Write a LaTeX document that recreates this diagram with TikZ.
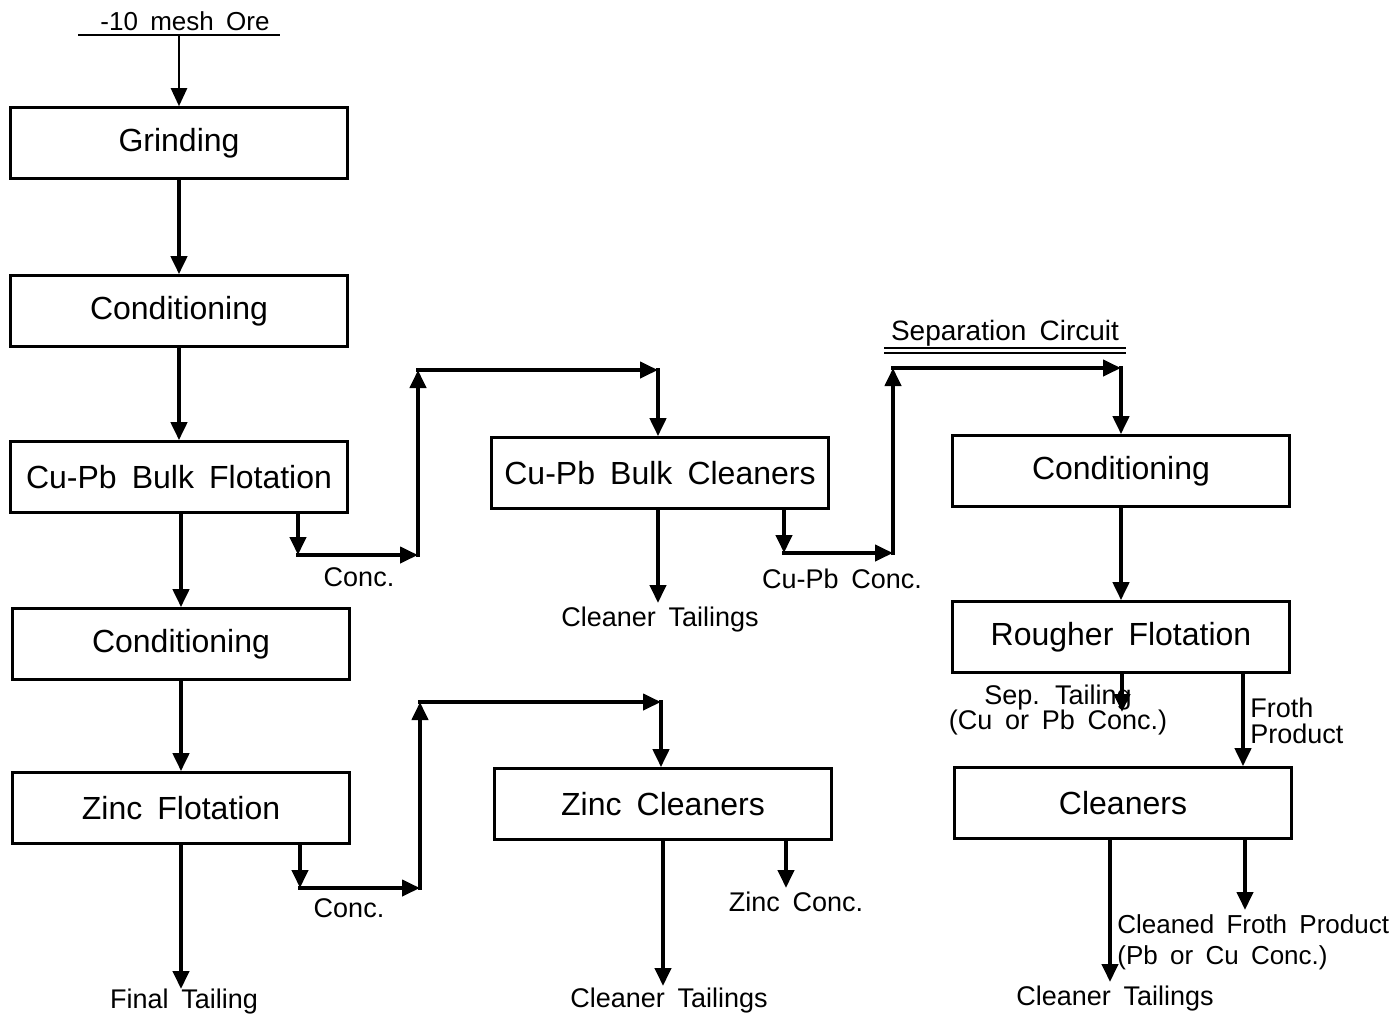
\documentclass[tikz,border=0pt]{standalone}
\usepackage{fontspec}
\setmainfont{Liberation Sans}[WordSpace=1.7]
\usetikzlibrary{arrows.meta,positioning}

\begin{document}
\begin{tikzpicture}[
    x=0.5pt, y=-0.5pt,
    unit/.style={rectangle, draw, line width=1.3pt, minimum width=168.5pt,
      minimum height=35.5pt, inner sep=0pt, font=\fontsize{16}{19}\selectfont},
    lbl/.style={inner sep=0pt, font=\fontsize{13.5}{13}\selectfont},
    flow/.style={-{Triangle[length=9pt,width=8pt]}, line width=2pt, line cap=rect},
    >=Stealth
  ]
  \useasboundingbox (0,0) rectangle (1394,1019);

  % main column
  \node[unit] (grind) at (179,143) {Grinding};
  \node[unit] (cond1) at (179,311) {Conditioning};
  \node[unit] (bulk)  at (179,477) {Cu-Pb Bulk Flotation};
  \node[unit] (cond2) at (181,644) {Conditioning};
  \node[unit] (zinc)  at (181,808) {Zinc Flotation};

  % cleaners
  \node[unit] (bulkcl) at (660,473) {Cu-Pb Bulk Cleaners};
  \node[unit] (zinccl) at (663,804) {Zinc Cleaners};

  % separation circuit
  \node[unit] (cond3) at (1121,471) {Conditioning};
  \node[unit] (rough) at (1121,637) {Rougher Flotation};
  \node[unit] (clean) at (1123,803) {Cleaners};

  % feed
  \node[lbl, font=\fontsize{13}{13}\selectfont] (ore) at (185,21) {-10 mesh Ore};
  \coordinate (orel) at (78,35);
  \coordinate (orer) at (280,35);
  \draw[line width=1pt] (orel) -- (orer);
  \draw[flow, line width=1.2pt] (grind.north |- orel) -- (grind);

  \draw[flow] (grind) -- (cond1);
  \draw[flow] (cond1) -- (bulk);
  \draw[flow] (bulk.south -| cond2) -- (cond2);
  \draw[flow] (cond2) -- (zinc);

  % Cu-Pb bulk concentrate
  \coordinate (a1) at (298,555);
  \coordinate (a2) at (418,555);
  \coordinate (a3) at (418,370);
  \coordinate (a4) at (658,370);
  \draw[flow] (bulk.south -| a1) -- (a1);
  \draw[flow] (a1) -- (a2);
  \draw[flow] (a2) -- (a3);
  \draw[flow] (a3) -- (a4);
  \draw[flow] (a4) -- (bulkcl.north -| a4);
  \node[lbl] (bconc) at (359,577) {Conc.};

  \node[lbl] (bctail) at (660,620) {Cleaner Tailings};
  \draw[flow] (bulkcl.south -| a4) -- ([yshift=2pt]bctail.north -| a4);

  % Cu-Pb concentrate to separation
  \coordinate (b1) at (784,553);
  \coordinate (b2) at (893,553);
  \coordinate (b3) at (893,368);
  \coordinate (b4) at (1121,368);
  \draw[flow] (bulkcl.south -| b1) -- (b1);
  \draw[flow] (b1) -- (b2);
  \draw[flow] (b2) -- (b3);
  \draw[flow] (b3) -- (b4);
  \draw[flow] (b4) -- (cond3.north -| b4);
  \node[lbl] (cpconc) at (842,579) {Cu-Pb Conc.};

  \node[lbl, font=\fontsize{14}{14}\selectfont] (sep) at (1005,333) {Separation Circuit};
  \coordinate (s1) at (884,350);
  \coordinate (s2) at (1126,350);
  \draw[line width=1pt, double, double distance=1.5pt] (s1) -- (s2);

  \draw[flow] (cond3) -- (rough);

  % rougher products
  \coordinate (st) at (1122,712);
  \draw[flow] (rough.south -| st) -- (st);
  \node[lbl, align=center] (septail) at (1058,710) {Sep. Tailing\\(Cu or Pb Conc.)};
  \coordinate (fp) at (1243,700);
  \draw[flow] (rough.south -| fp) -- (clean.north -| fp);
  \node[lbl, align=left, anchor=west] (froth) at (1250,721) {Froth\\Product};

  % cleaner products
  \node[lbl] (cltail) at (1115,999) {Cleaner Tailings};
  \coordinate (ct) at (1110,982);
  \draw[flow] (clean.south -| ct) -- (ct);
  \coordinate (cf) at (1245,910);
  \draw[flow] (clean.south -| cf) -- (cf);
  \node[lbl, font=\fontsize{13}{15.5}\selectfont, align=left, anchor=north west]
    (cfroth) at (1117,914) {Cleaned Froth Product\\(Pb or Cu Conc.)};

  % zinc circuit
  \node[lbl] (final) at (184,1002) {Final Tailing};
  \draw[flow] (zinc) -- (final.north -| zinc);
  \coordinate (d1) at (300,888);
  \coordinate (d2) at (420,888);
  \coordinate (d3) at (420,702);
  \coordinate (d4) at (661,702);
  \draw[flow] (zinc.south -| d1) -- (d1);
  \draw[flow] (d1) -- (d2);
  \draw[flow] (d2) -- (d3);
  \draw[flow] (d3) -- (d4);
  \draw[flow] (d4) -- (zinccl.north -| d4);
  \node[lbl] (zconc) at (349,908) {Conc.};

  \node[lbl] (zctail) at (669,1001) {Cleaner Tailings};
  \coordinate (zt) at (663,986);
  \draw[flow] (zinccl.south -| zt) -- (zt);
  \coordinate (zc) at (786,888);
  \draw[flow] (zinccl.south -| zc) -- (zc);
  \node[lbl] (zincconc) at (796,902) {Zinc Conc.};
\end{tikzpicture}
\end{document}
